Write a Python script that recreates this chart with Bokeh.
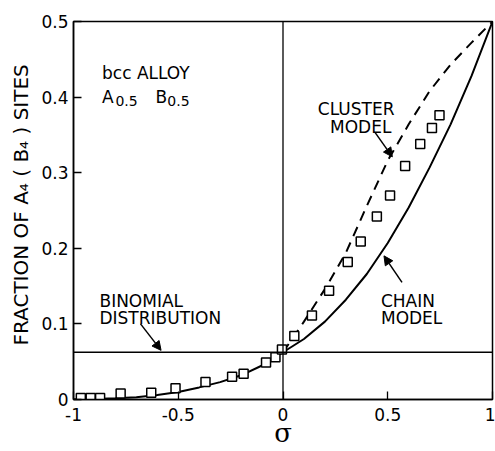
from bokeh.plotting import figure
from bokeh.models import (Range1d, FixedTicker, CustomJSTickFormatter, Span, Label,
                          Arrow, NormalHead)
from bokeh.embed import file_html
from bokeh.resources import INLINE

# ---- data ----
chain_sigma = [-1.0, -0.9, -0.8, -0.7, -0.6, -0.5, -0.4, -0.3, -0.2, -0.1, 0.0,
               0.1, 0.2, 0.3, 0.4, 0.5, 0.6, 0.7, 0.8, 0.9, 1.0]
chain_frac = [0.0, 0.0005, 0.0015, 0.003, 0.006, 0.010, 0.016, 0.023, 0.032, 0.045, 0.0625,
              0.080, 0.103, 0.132, 0.166, 0.207, 0.254, 0.307, 0.364, 0.428, 0.5]

cluster_sigma = [0.0, 0.1, 0.2, 0.3, 0.4, 0.5, 0.6, 0.7, 0.8, 0.9, 1.0]
cluster_frac = [0.0625, 0.103, 0.146, 0.194, 0.256, 0.316, 0.364, 0.408, 0.443, 0.472, 0.5]

exp_sigma = [-0.965, -0.918, -0.873, -0.775, -0.629, -0.513, -0.370, -0.243, -0.188,
             -0.081, -0.036, -0.005, 0.054, 0.138, 0.220, 0.309, 0.371, 0.448, 0.511,
             0.583, 0.655, 0.711, 0.747]
exp_frac = [0.002, 0.002, 0.002, 0.008, 0.009, 0.015, 0.023, 0.030, 0.034,
            0.049, 0.056, 0.066, 0.084, 0.111, 0.144, 0.182, 0.209, 0.242, 0.270,
            0.309, 0.338, 0.359, 0.376]

binomial_value = 0.0625
x_ticks = [-1, -0.5, 0, 0.5, 1]
y_ticks = [0, 0.1, 0.2, 0.3, 0.4, 0.5]
y_title = "FRACTION OF A\u2084 ( B\u2084 ) SITES"
x_title = "\u03c3"

FONT = "DejaVu Sans"

p = figure(width=495, height=451, x_range=Range1d(-1, 1), y_range=Range1d(0, 0.5),
           output_backend="svg", toolbar_location=None, title=y_title, title_location="left",
           min_border_left=73, min_border_right=3, min_border_top=21, min_border_bottom=52)
p.background_fill_color = "white"
p.border_fill_color = "white"
p.outline_line_color = "black"
p.outline_line_width = 1.5
p.xgrid.visible = False
p.ygrid.visible = False

p.title.align = "left"
p.title.text_font = FONT
p.title.text_font_size = "20px"
p.title.text_font_style = "normal"
p.title.text_color = "black"
p.title.offset = 54
p.title.standoff = 12

for ax in (p.xaxis[0], p.yaxis[0]):
    ax.major_tick_in = 8
    ax.major_tick_out = 0
    ax.minor_tick_line_color = None
    ax.axis_line_color = "black"
    ax.axis_line_width = 1.5
    ax.major_tick_line_width = 1.3
    ax.major_label_text_font = FONT
    ax.major_label_text_font_size = "17px"
    ax.major_label_text_color = "black"

p.xaxis.ticker = FixedTicker(ticks=x_ticks)
p.yaxis.ticker = FixedTicker(ticks=y_ticks)
p.xaxis.formatter = CustomJSTickFormatter(
    code="return (Math.abs(tick - Math.round(tick)) < 1e-9) ? String(Math.abs(Math.round(tick)) === 0 ? 0 : Math.round(tick)) : tick.toFixed(1);")
p.yaxis.formatter = CustomJSTickFormatter(code="return tick == 0 ? '0' : tick.toFixed(1);")
p.xaxis.major_label_standoff = 8
p.yaxis.major_label_standoff = 5

p.xaxis.axis_label = x_title
p.xaxis.axis_label_text_font = "DejaVu Serif"
p.xaxis.axis_label_text_font_size = "26px"
p.xaxis.axis_label_text_font_style = "normal"
p.xaxis.axis_label_text_color = "black"
p.xaxis.axis_label_standoff = -6

# reference lines
p.add_layout(Span(location=binomial_value, dimension="width", line_color="black", line_width=1.3))
p.add_layout(Span(location=0, dimension="height", line_color="black", line_width=1.3))

# curves
p.line(chain_sigma, chain_frac, line_color="black", line_width=2)
p.line(cluster_sigma, cluster_frac, line_color="black", line_width=2, line_dash="10 7")
p.scatter(exp_sigma, exp_frac, marker="square", size=9, fill_color="white",
          line_color="black", line_width=1.5)

def lab(x, y, t, size="17px", align="left", baseline="alphabetic", font=FONT):
    p.add_layout(Label(x=x, y=y, text=t, text_font=font, text_font_size=size,
                       text_align=align, text_baseline=baseline, text_color="black"))

lab(-0.864, 0.432, "bcc ALLOY")
lab(-0.864, 0.400, "A")
lab(-0.800, 0.3955, "0.5", size="14px")
lab(-0.609, 0.400, "B")
lab(-0.552, 0.3955, "0.5", size="14px")

lab(0.349, 0.384, "CLUSTER", align="center")
lab(0.371, 0.3606, "MODEL", align="center")
lab(0.4676, 0.130, "CHAIN")
lab(0.4676, 0.108, "MODEL")
lab(-0.876, 0.130, "BINOMIAL")
lab(-0.876, 0.108, "DISTRIBUTION")

def arrow(x0, y0, x1, y1):
    p.add_layout(Arrow(end=NormalHead(size=9, fill_color="black", line_color="black"),
                       x_start=x0, y_start=y0, x_end=x1, y_end=y1,
                       line_color="black", line_width=1.5))

arrow(0.440, 0.353, 0.522, 0.321)
arrow(0.568, 0.155, 0.482, 0.190)
arrow(-0.68, 0.100, -0.582, 0.065)

open("out.html", "w").write(file_html(p, INLINE))
